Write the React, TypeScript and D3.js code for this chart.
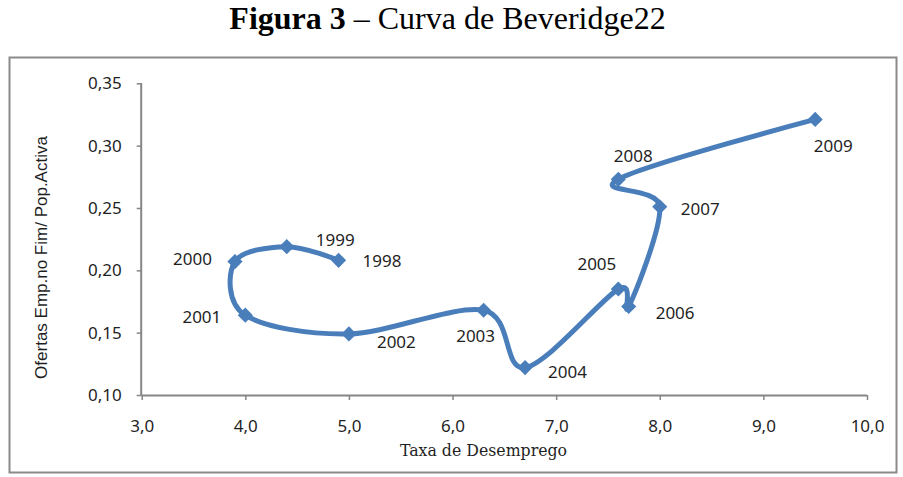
import React, { useEffect, useRef } from "react";
import * as d3 from "d3";

// Curva de Beveridge, 1998-2009
const years = ["1998", "1999", "2000", "2001", "2002", "2003", "2004", "2005", "2006", "2007", "2008", "2009"];
const unemployment = [4.9, 4.4, 3.9, 4.0, 5.0, 6.3, 6.7, 7.6, 7.7, 8.0, 7.6, 9.5];
const vacancies = [0.208, 0.219, 0.207, 0.164, 0.149, 0.168, 0.122, 0.185, 0.171, 0.251, 0.273, 0.321];
const xTicks = [3, 4, 5, 6, 7, 8, 9, 10];
const yTicks = [0.1, 0.15, 0.2, 0.25, 0.3, 0.35];

// where each year label sits relative to its marker: [dx, dy, anchor]
const labelPlacement: [number, number, string][] = [
  [24, 7, "start"],
  [29, -1, "start"],
  [-23, 3, "end"],
  [-24, 8, "end"],
  [28, 14, "start"],
  [-8, 32, "middle"],
  [23, 10, "start"],
  [-2, -19, "end"],
  [27, 13, "start"],
  [21, 8, "start"],
  [15, -17, "middle"],
  [18, 33, "middle"],
];

const W = 903;
const H = 477;
const plot = { left: 141.7, right: 867, top: 83.3, bottom: 395 };
const BLUE = "#4a7ebb";
const AXIS = "#868686";
const SANS = "'Noto Sans', sans-serif";

export default function App() {
  const ref = useRef<SVGSVGElement>(null);

  useEffect(() => {
    const svg = d3.select(ref.current);
    svg.selectAll("*").remove();

    const x = d3.scaleLinear().domain([3, 10]).range([plot.left, plot.right]);
    const y = d3.scaleLinear().domain([0.1, 0.35]).range([plot.bottom, plot.top]);
    const comma = (f: string) => (v: number) => d3.format(f)(v).replace(".", ",");

    svg.append("rect")
      .attr("width", W).attr("height", H).attr("fill", "#fff");

    // title
    const title = svg.append("text")
      .attr("x", 447.5).attr("y", 28.5)
      .attr("text-anchor", "middle")
      .style("font-family", "'Liberation Serif', 'Times New Roman', serif")
      .style("font-size", "32px")
      .attr("fill", "#000");
    title.append("tspan").attr("font-weight", "bold").text("Figura 3");
    title.append("tspan").text(" – Curva de Beveridge22");

    // chart frame
    svg.append("rect")
      .attr("x", 9.5).attr("y", 57.5).attr("width", 887).attr("height", 415)
      .attr("fill", "#fff").attr("stroke", "#8a8a8a").attr("stroke-width", 2);

    // y axis
    const gy = svg.append("g")
      .attr("transform", `translate(${plot.left},0)`)
      .call(d3.axisLeft(y).tickValues(yTicks).tickSize(5).tickPadding(15).tickFormat(comma(".2f") as any));
    // x axis
    const gx = svg.append("g")
      .attr("transform", `translate(0,${plot.bottom})`)
      .call(d3.axisBottom(x).tickValues(xTicks).tickSize(5).tickPadding(20).tickFormat(comma(".1f") as any));

    [gx, gy].forEach((g) => {
      g.select(".domain").attr("stroke", AXIS).attr("stroke-width", 2);
      g.selectAll(".tick line").attr("stroke", AXIS).attr("stroke-width", 1.5);
      g.selectAll(".tick text")
        .attr("fill", "#1f1f1f")
        .style("font-family", SANS)
        .style("font-size", "17px");
    });
    gy.select(".domain").attr("d", `M-0.5,${plot.top}V${plot.bottom}`);
    gx.select(".domain").attr("d", `M${plot.left},0.5H${plot.right}`);

    // axis titles
    svg.append("text")
      .attr("x", 483.5).attr("y", 456)
      .attr("text-anchor", "middle")
      .style("font-family", "'DejaVu Serif', serif")
      .style("font-size", "15.75px")
      .attr("fill", "#1f1f1f")
      .text("Taxa de Desemprego");

    svg.append("text")
      .attr("transform", "translate(46.5,257.5) rotate(-90)")
      .attr("text-anchor", "middle")
      .style("font-family", "'Liberation Sans', Arial, sans-serif")
      .style("font-size", "17px")
      .attr("fill", "#1f1f1f")
      .text("Ofertas Emp.no Fim/ Pop.Activa");

    const points = years.map((yr, i) => ({ yr, u: unemployment[i], v: vacancies[i], p: labelPlacement[i] }));

    // smoothed line
    const line = d3.line<(typeof points)[number]>()
      .x((d) => x(d.u))
      .y((d) => y(d.v))
      .curve(d3.curveCatmullRom.alpha(0));

    svg.append("path")
      .datum(points)
      .attr("d", line)
      .attr("fill", "none")
      .attr("stroke", BLUE)
      .attr("stroke-width", 5)
      .attr("stroke-linejoin", "round")
      .attr("stroke-linecap", "round");

    // diamond markers
    const diamond = d3.symbol(d3.symbolSquare, 115);
    svg.selectAll(".dot")
      .data(points)
      .enter().append("path")
      .attr("class", "dot")
      .attr("d", diamond)
      .attr("transform", (d) => `translate(${x(d.u)},${y(d.v)}) rotate(45)`)
      .attr("fill", BLUE);

    // year labels
    svg.selectAll(".lbl")
      .data(points)
      .enter().append("text")
      .attr("class", "lbl")
      .attr("x", (d) => x(d.u) + d.p[0])
      .attr("y", (d) => y(d.v) + d.p[1])
      .attr("text-anchor", (d) => d.p[2])
      .style("font-family", SANS)
      .style("font-size", "17px")
      .attr("fill", "#1f1f1f")
      .text((d) => d.yr);
  }, []);

  return (
    <svg ref={ref} width={W} height={H}
      style={{ position: "absolute", left: 0, top: 0, display: "block" }} />
  );
}
